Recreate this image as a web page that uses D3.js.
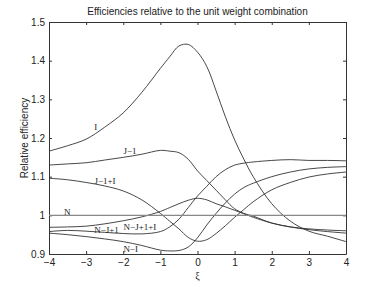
<!DOCTYPE html>
<html>
<head>
<meta charset="utf-8">
<script src="https://cdn.jsdelivr.net/npm/d3@7"></script>
<style>
  body { margin: 0; background: #fff; }
  svg text { fill: #222; }
</style>
</head>
<body>
<div id="chart"></div>
<script>
// values
const xiValues = [-4, -3.5, -3, -2.5, -2, -1.5, -1, -0.75, -0.5, -0.25, 0, 0.25, 0.5, 0.75, 1, 1.25, 1.5, 2, 2.5, 3, 3.5, 4];

const effI       = [1.166, 1.180, 1.197, 1.228, 1.265, 1.318, 1.380, 1.410, 1.438, 1.442, 1.422, 1.385, 1.322, 1.255, 1.195, 1.145, 1.100, 1.030, 0.985, 0.959, 0.946, 0.932];
const effJ1      = [1.130, 1.133, 1.136, 1.143, 1.150, 1.158, 1.168, 1.166, 1.162, 1.145, 1.115, 1.090, 1.065, 1.040, 1.017, 1.005, 0.998, 0.980, 0.970, 0.963, 0.958, 0.954];
const effJ1I     = [1.096, 1.092, 1.085, 1.076, 1.063, 1.040, 1.005, 0.985, 0.965, 0.943, 0.933, 0.937, 0.953, 0.973, 0.995, 1.015, 1.035, 1.066, 1.085, 1.099, 1.107, 1.112];
const effN       = [1, 1, 1, 1, 1, 1, 1, 1, 1, 1, 1, 1, 1, 1, 1, 1, 1, 1, 1, 1, 1, 1];
const effNJ1     = [0.969, 0.970, 0.972, 0.978, 0.986, 0.996, 1.010, 1.020, 1.030, 1.039, 1.044, 1.040, 1.030, 1.022, 1.013, 1.004, 0.995, 0.980, 0.970, 0.965, 0.962, 0.960];
const effNJ1I    = [0.958, 0.961, 0.959, 0.956, 0.953, 0.952, 0.958, 0.970, 0.990, 1.020, 1.050, 1.075, 1.100, 1.118, 1.130, 1.135, 1.138, 1.142, 1.144, 1.142, 1.142, 1.141];
const effNI      = [0.954, 0.950, 0.945, 0.939, 0.932, 0.922, 0.910, 0.908, 0.909, 0.918, 0.942, 0.975, 1.005, 1.032, 1.055, 1.072, 1.083, 1.100, 1.112, 1.120, 1.124, 1.126];

const labelTexts = ["I", "J\u22121", "J\u22121+I", "N", "N\u2212J+1", "N\u2212J+1+I", "N\u2212I"];
const labelXi    = [-2.74, -1.82, -2.49, -3.51, -2.45, -1.55, -1.80];
const labelEff   = [1.229, 1.167, 1.089, 1.008, 0.962, 0.970, 0.914];

const xTicks = [-4, -3, -2, -1, 0, 1, 2, 3, 4];
const yTicks = [0.9, 1, 1.1, 1.2, 1.3, 1.4, 1.5];

const width = 382;
const height = 287;
const margin = { top: 22, right: 36, bottom: 33, left: 49 };

const svg = d3.select("#chart").append("svg")
    .attr("width", width)
    .attr("height", height)

const x = d3.scaleLinear()
    .domain([-4, 4])
    .range([margin.left, width - margin.right])

const y = d3.scaleLinear()
    .domain([0.9, 1.5])
    .range([height - margin.bottom, margin.top])

// title and axis labels
svg.append("text")
    .attr("x", (x(-4) + x(4)) / 2)
    .attr("y", 15)
    .attr("text-anchor", "middle")
    .style("font", "10px 'Liberation Sans', Arial, sans-serif")
    .text("Efficiencies relative to the unit weight combination")

svg.append("text")
    .attr("transform", `translate(28, ${(y(0.9) + y(1.5)) / 2}) rotate(-90)`)
    .attr("text-anchor", "middle")
    .style("font", "10px 'Liberation Sans', Arial, sans-serif")
    .text("Relative efficiency")

svg.append("text")
    .attr("x", x(0))
    .attr("y", 279)
    .attr("text-anchor", "middle")
    .style("font", "10px 'Liberation Serif', serif")
    .text("\u03be")

// axes, MATLAB style with inward ticks
const tickLen = 3;
const axisBottom = svg.append("g")
    .attr("transform", `translate(0, ${y(0.9)})`)
    .call(d3.axisBottom(x).tickValues(xTicks).tickSizeInner(-tickLen).tickSizeOuter(0).tickPadding(5))
const axisTop = svg.append("g")
    .attr("transform", `translate(0, ${y(1.5)})`)
    .call(d3.axisTop(x).tickValues(xTicks).tickSizeInner(-tickLen).tickSizeOuter(0).tickFormat(""))
const axisLeft = svg.append("g")
    .attr("transform", `translate(${x(-4)}, 0)`)
    .call(d3.axisLeft(y).tickValues(yTicks).tickSizeInner(-tickLen).tickSizeOuter(0).tickPadding(4).tickFormat(d3.format("~g")))
const axisRight = svg.append("g")
    .attr("transform", `translate(${x(4)}, 0)`)
    .call(d3.axisRight(y).tickValues(yTicks).tickSizeInner(-tickLen).tickSizeOuter(0).tickFormat(""))

for (const ax of [axisBottom, axisTop, axisLeft, axisRight]) {
    ax.selectAll("path").attr("stroke", "#333").attr("stroke-width", 1)
    ax.selectAll("line").attr("stroke", "#333")
    ax.selectAll("text")
        .style("font", "10px 'Liberation Sans', Arial, sans-serif")
        .attr("fill", "#222")
}

// curves
const series = [effI, effJ1, effJ1I, effNJ1, effNJ1I, effNI];
const line = d3.line()
    .x((d, i) => x(xiValues[i]))
    .y(d => y(d))
    .curve(d3.curveCatmullRom)

svg.append("g")
    .selectAll("path")
    .data(series)
    .join("path")
    .attr("d", d => line(d))
    .attr("fill", "none")
    .attr("stroke", "#333")
    .attr("stroke-width", 0.9)

// the N reference line is drawn a little greyer
svg.append("path")
    .attr("d", line(effN))
    .attr("fill", "none")
    .attr("stroke", "#888")
    .attr("stroke-width", 1.4)

// curve labels
svg.append("g")
    .selectAll("text")
    .data(labelTexts)
    .join("text")
    .attr("x", (d, i) => x(labelXi[i]))
    .attr("y", (d, i) => y(labelEff[i]))
    .attr("dy", "0.35em")
    .attr("text-anchor", "middle")
    .style("font", "9px 'Liberation Serif', 'Times New Roman', serif")
    .text(d => d)
</script>
</body>
</html>
